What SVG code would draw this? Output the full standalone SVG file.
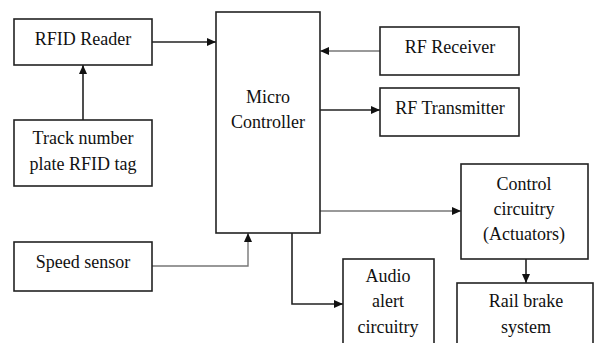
<svg xmlns="http://www.w3.org/2000/svg" width="594" height="343" viewBox="0 0 594 343">
  <defs>
    <marker id="arrow" markerWidth="10" markerHeight="10" refX="9" refY="5" orient="auto" markerUnits="userSpaceOnUse">
      <path d="M0,1 L9,5 L0,9 Z" fill="#111"/>
    </marker>
  </defs>
  <style>
    .box { fill: #fff; stroke: #222; stroke-width: 1.6; }
    .lbl { font-family: "Liberation Serif", "Times New Roman", serif; font-size: 18px; fill: #111; text-anchor: middle; }
    .wire { fill: none; stroke: #222; stroke-width: 1.6; }
    .wire.light { stroke: #777; stroke-width: 1.4; }
  </style>
  <rect width="594" height="343" fill="#fff"/>

  <!-- signal paths between the blocks -->
  <g id="connectors">
    <path class="wire" d="M152,42 H216" marker-end="url(#arrow)"/>
    <path class="wire" d="M83,120 V65" marker-end="url(#arrow)"/>
    <path class="wire light" d="M380,51 H320" marker-end="url(#arrow)"/>
    <path class="wire" d="M320,110 H380" marker-end="url(#arrow)"/>
    <path class="wire light" d="M320,211 H461" marker-end="url(#arrow)"/>
    <path class="wire" d="M526,259 V283" marker-end="url(#arrow)"/>
    <path class="wire light" d="M152,266 H248 V233" marker-end="url(#arrow)"/>
    <path class="wire" d="M292,233 V304 H343" marker-end="url(#arrow)"/>
  </g>

  <g id="rfid-reader">
    <rect class="box" x="14" y="19" width="138" height="46"/>
    <text class="lbl" x="83" y="45">RFID Reader</text>
  </g>

  <g id="track-tag">
    <rect class="box" x="14" y="120" width="138" height="66"/>
    <text class="lbl" x="83" y="144">Track number</text>
    <text class="lbl" x="83" y="170">plate RFID tag</text>
  </g>

  <g id="micro-controller">
    <rect class="box" x="216" y="12" width="104" height="221"/>
    <text class="lbl" x="268" y="103">Micro</text>
    <text class="lbl" x="268" y="128">Controller</text>
  </g>

  <g id="rf-receiver">
    <rect class="box" x="380" y="27" width="139" height="48"/>
    <text class="lbl" x="450" y="53">RF Receiver</text>
  </g>

  <g id="rf-transmitter">
    <rect class="box" x="380" y="88" width="139" height="48"/>
    <text class="lbl" x="450" y="114">RF Transmitter</text>
  </g>

  <g id="speed-sensor">
    <rect class="box" x="14" y="242" width="138" height="49"/>
    <text class="lbl" x="83" y="268">Speed sensor</text>
  </g>

  <g id="control-circuitry">
    <rect class="box" x="461" y="164" width="127" height="95"/>
    <text class="lbl" x="524" y="190">Control</text>
    <text class="lbl" x="524" y="215">circuitry</text>
    <text class="lbl" x="524" y="240">(Actuators)</text>
  </g>

  <g id="audio-alert">
    <rect class="box" x="343" y="259" width="91" height="100"/>
    <text class="lbl" x="388" y="282">Audio</text>
    <text class="lbl" x="388" y="307">alert</text>
    <text class="lbl" x="388" y="333">circuitry</text>
  </g>

  <g id="rail-brake">
    <rect class="box" x="457" y="283" width="136" height="80"/>
    <text class="lbl" x="526" y="307">Rail brake</text>
    <text class="lbl" x="526" y="333">system</text>
  </g>
</svg>
